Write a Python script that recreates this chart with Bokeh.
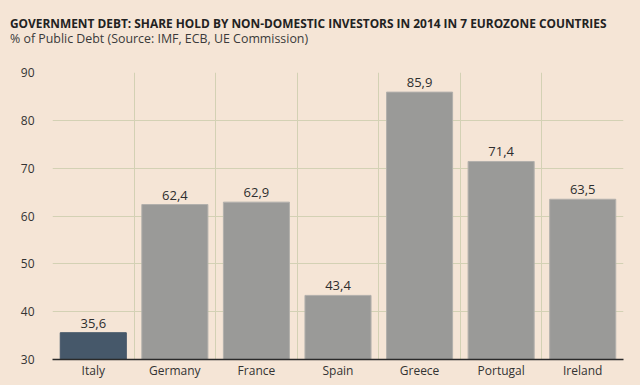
from bokeh.plotting import figure
from bokeh.models import ColumnDataSource, Range1d, FixedTicker, Grid, LabelSet, Div
from bokeh.layouts import column
from bokeh.core.properties import value
from bokeh.embed import file_html
from bokeh.resources import INLINE

countries = ["Italy", "Germany", "France", "Spain", "Greece", "Portugal", "Ireland"]
shares = [35.6, 62.4, 62.9, 43.4, 85.9, 71.4, 63.5]
labels = ["35,6", "62,4", "62,9", "43,4", "85,9", "71,4", "63,5"]
y_ticks = [30, 40, 50, 60, 70, 80, 90]
title_text = "GOVERNMENT DEBT: SHARE HOLD BY NON-DOMESTIC INVESTORS IN 2014 IN 7 EUROZONE COUNTRIES"
subtitle_text = "% of Public Debt (Source: IMF, ECB, UE Commission)"

BG = "#f5e5d6"
FONT = "Open Sans"

xs = [i + 0.5 for i in range(len(countries))]
fills = ["#46586a" if c == "Italy" else "#9a9a98" for c in countries]
lines = ["#46586a" if c == "Italy" else "#b2b0ac" for c in countries]
src = ColumnDataSource(dict(x=xs, top=shares, label=labels, fill=fills, line=lines))

p = figure(width=640, height=335, output_backend="svg", toolbar_location=None,
           x_range=Range1d(0, len(countries)), y_range=Range1d(30, 90),
           background_fill_color=BG, border_fill_color=BG, margin=(0, 0, 0, 0),
           min_border_left=52, min_border_right=17, min_border_top=22, min_border_bottom=26)
p.outline_line_color = None

p.vbar(x="x", top="top", bottom=30, width=0.81, fill_color="fill", line_color="line",
       line_width=1, source=src)

p.add_layout(LabelSet(x="x", y="top", text="label", source=src, text_align="center",
                      text_baseline="bottom", y_offset=5, text_font_size="13px",
                      text_font=value(FONT), text_color="#2e2e2e"))

# grids
p.xgrid.visible = False
p.ygrid.ticker = FixedTicker(ticks=y_ticks)
p.ygrid.grid_line_color = "#d3d1b4"
vg = Grid(dimension=0, ticker=FixedTicker(ticks=list(range(len(countries) + 1))),
          grid_line_color="#d3d1b4")
p.add_layout(vg)

# axes
p.yaxis.ticker = FixedTicker(ticks=y_ticks)
p.yaxis.axis_line_color = None
p.yaxis.major_tick_line_color = None
p.yaxis.minor_tick_line_color = None
p.yaxis.major_label_standoff = 12
p.yaxis.major_label_text_font = FONT
p.yaxis.major_label_text_font_size = "12px"
p.yaxis.major_label_text_color = "#333333"

p.xaxis.ticker = FixedTicker(ticks=xs)
p.xaxis.major_label_overrides = {x: c for x, c in zip(xs, countries)}
p.xaxis.axis_line_color = "#2a2a2a"
p.xaxis.axis_line_width = 1.5
p.xaxis.major_tick_line_color = None
p.xaxis.minor_tick_line_color = None
p.xaxis.major_label_standoff = -4
p.xaxis.major_label_text_font = FONT
p.xaxis.major_label_text_font_size = "12px"
p.xaxis.major_label_text_color = "#333333"

head_html = (
    "<div style=\"font-family:'Open Sans';font-size:11.9px;font-weight:bold;color:#222222;"
    "line-height:16px;white-space:nowrap;\">%s</div>"
    "<div style=\"font-family:'Open Sans';font-size:12.4px;font-weight:normal;color:#3a3a3a;"
    "line-height:15px;white-space:nowrap;\">%s</div>" % (title_text, subtitle_text)
)
head = Div(text=head_html, width=640, height=50, margin=(0, 0, 0, 0),
           styles={"padding-left": "10px", "padding-top": "15px",
                   "background-color": BG, "box-sizing": "border-box"})

layout = column(head, p, spacing=0)

html = file_html(layout, INLINE)
html = html.replace("<head>", "<head><style>body{background:%s;}</style>" % BG, 1)
open("out.html", "w").write(html)
